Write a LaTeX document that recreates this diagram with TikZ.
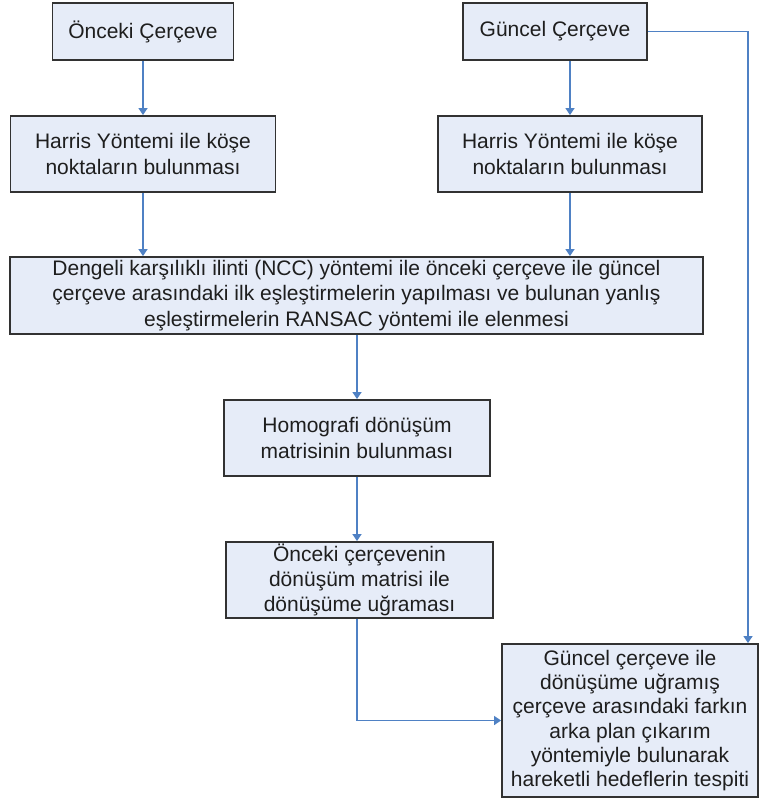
\documentclass[tikz,border=0pt]{standalone}
\usepackage{fontspec}
\setmainfont{Liberation Sans}
\usetikzlibrary{arrows.meta}
\definecolor{boxfill}{RGB}{230,236,248}
\definecolor{boxline}{RGB}{50,50,50}
\definecolor{arrowblue}{RGB}{79,129,196}
\definecolor{txt}{RGB}{30,30,30}
\tikzset{
  box/.style={draw=boxline, line width=1.9pt, fill=boxfill, inner sep=0pt,
    align=center, text=txt, font=\fontsize{21}{25.5}\selectfont},
  arr/.style={draw=arrowblue, line width=1.6pt,
    -{Triangle[length=7pt,width=9pt]}}
}
\begin{document}
\begin{tikzpicture}[x=1pt,y=-1pt]
\useasboundingbox (0,0) rectangle (761,798);
\node[box, minimum width=181, minimum height=57] (A) at (143,31.5) {Önceki Çerçeve};
\node[box, minimum width=184, minimum height=57] (B) at (555,31.5) {Güncel Çerçeve};
\node[box, minimum width=265, minimum height=76] (C) at (143,154) {Harris Yöntemi ile köşe\\noktaların bulunması};
\node[box, minimum width=264, minimum height=76] (D) at (570,154) {Harris Yöntemi ile köşe\\noktaların bulunması};
\node[box, minimum width=693, minimum height=77] (E) at (356.5,295.5) {Dengeli karşılıklı ilinti (NCC) yöntemi ile önceki çerçeve ile güncel\\çerçeve arasındaki ilk eşleştirmelerin yapılması ve bulunan yanlış\\eşleştirmelerin RANSAC yöntemi ile elenmesi};
\node[box, minimum width=266, minimum height=76] (F) at (357,438) {Homografi dönüşüm\\matrisinin bulunması};
\node[box, minimum width=267, minimum height=76, font=\fontsize{21}{25}\selectfont] (G) at (359.5,580) {Önceki çerçevenin\\dönüşüm matrisi ile\\dönüşüme uğraması};
\node[box, minimum width=256, minimum height=153, font=\fontsize{21}{24.3}\selectfont] (H) at (630,720.5) {Güncel çerçeve ile\\dönüşüme uğramış\\çerçeve arasındaki farkın\\arka plan çıkarım\\yöntemiyle bulunarak\\hareketli hedeflerin tespiti};
\coordinate (R) at (748,31.5);
\draw[arr] (A.south) -- (C.north);
\draw[arr] (D.north |- B.south) -- (D.north);
\draw[arr] (C.south) -- (C.south |- E.north);
\draw[arr] (D.south) -- (D.south |- E.north);
\draw[arr] (B.east) -- (R) -- (R |- H.north);
\draw[arr] (E.south -| F.north) -- (F.north);
\draw[arr] (F.south) -- (F.south |- G.north);
\draw[arr] (G.south -| F.south) |- (H.west);
\end{tikzpicture}
\end{document}
